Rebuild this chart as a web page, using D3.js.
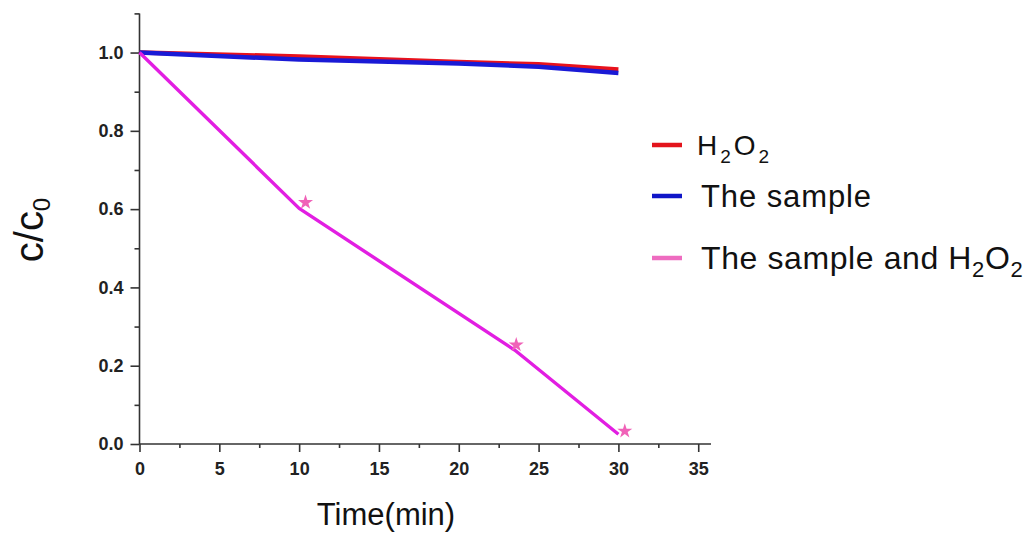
<!DOCTYPE html>
<html>
<head>
<meta charset="utf-8">
<script src="https://cdn.jsdelivr.net/npm/d3@7"></script>
<style>
  html, body { margin: 0; padding: 0; background: #fff; }
  svg { display: block; font-family: "Liberation Sans", Arial, sans-serif; }
</style>
</head>
<body>
<svg id="chart" width="1029" height="536"></svg>
<script>
// Degradation of C/C0 over time for three conditions
const h2o2Time = [0, 10, 20, 25, 30];
const h2o2Vals = [1.0, 0.990, 0.976, 0.970, 0.957];

const sampleTime = [0, 10, 20, 25, 30];
const sampleVals = [1.0, 0.982, 0.972, 0.964, 0.948];

// fitted curve for the sample with H2O2
const mixTime = [0, 10, 23.5, 30];
const mixVals = [1.0, 0.602, 0.240, 0.025];

// measured points for the sample with H2O2
const mixPtTime = [10.4, 23.6, 30.4];
const mixPtVals = [0.617, 0.253, 0.033];

const xMajor = [0, 5, 10, 15, 20, 25, 30, 35];
const xMinor = [2.5, 7.5, 12.5, 17.5, 22.5, 27.5, 32.5];
const yMajor = [0.0, 0.2, 0.4, 0.6, 0.8, 1.0];
const yMinor = [0.1, 0.3, 0.5, 0.7, 0.9, 1.1];

const legendItems = [
  { parts: [["H", false], ["2", true], ["O", false], ["2", true]], color: "#e3141c" },
  { parts: [["The sample", false]], color: "#1016c8" },
  { parts: [["The sample and H", false], ["2", true], ["O", false], ["2", true]], color: "#ee6cc0" }
];

const svg = d3.select("#chart");
svg.append("rect").attr("width", 1029).attr("height", 536).attr("fill", "#fff");

const x = d3.scaleLinear().domain([0, 35.8]).range([139.5, 711]);
const y = d3.scaleLinear().domain([0, 1.1]).range([444, 13.4]);

const axisColor = "#333";
const tickFont = "bold 18px 'Liberation Sans', Arial, sans-serif";

function styleAxis(g) {
  g.select(".domain").attr("stroke", axisColor).attr("stroke-width", 1.6);
  g.selectAll(".tick line").attr("stroke", axisColor).attr("stroke-width", 1.6);
  g.selectAll(".tick text").attr("fill", "#222").style("font", tickFont);
}

// x axis
const gx = svg.append("g").attr("transform", `translate(0,${y(0)})`)
  .call(d3.axisBottom(x).tickValues(xMajor).tickSize(8).tickPadding(10).tickFormat(d3.format("d")));
styleAxis(gx);
gx.select(".domain").attr("d", `M${x(0)},0H${x(35.8)}`);
const gxm = svg.append("g").attr("transform", `translate(0,${y(0)})`)
  .call(d3.axisBottom(x).tickValues(xMinor).tickSize(4).tickFormat(""));
gxm.select(".domain").remove();
styleAxis(gxm);

// y axis
const gy = svg.append("g").attr("transform", `translate(${x(0)},0)`)
  .call(d3.axisLeft(y).tickValues(yMajor).tickSize(9).tickPadding(7).tickFormat(d3.format(".1f")));
styleAxis(gy);
gy.select(".domain").attr("d", `M0,${y(0)}V${y(1.1)}`);
const gym = svg.append("g").attr("transform", `translate(${x(0)},0)`)
  .call(d3.axisLeft(y).tickValues(yMinor).tickSize(5).tickFormat(""));
gym.select(".domain").remove();
styleAxis(gym);

// series lines
const line = d3.line().x(d => x(d[0])).y(d => y(d[1]));
const zip = (a, b) => a.map((v, i) => [v, b[i]]);

svg.append("path").datum(zip(h2o2Time, h2o2Vals))
  .attr("d", line).attr("fill", "none").attr("stroke", "#e8121c").attr("stroke-width", 4.5);
svg.append("path").datum(zip(sampleTime, sampleVals))
  .attr("d", line).attr("fill", "none").attr("stroke", "#1a1ad6").attr("stroke-width", 4.5);
svg.append("path").datum(zip(mixTime, mixVals))
  .attr("d", line).attr("fill", "none").attr("stroke", "#e21ee2").attr("stroke-width", 3.4)
  .attr("stroke-linejoin", "round");

svg.append("g").selectAll("path").data(zip(mixPtTime, mixPtVals)).join("path")
  .attr("transform", d => `translate(${x(d[0])},${y(d[1])})`)
  .attr("d", d3.symbol(d3.symbolStar, 70))
  .attr("fill", "#f062b8");

// axis titles
svg.append("text").attr("x", 386).attr("y", 525).attr("text-anchor", "middle")
  .style("font", "31px 'Liberation Sans', Arial, sans-serif").attr("fill", "#111")
  .text("Time(min)");

const yt = svg.append("text").attr("transform", "translate(43,230) rotate(-90)")
  .attr("text-anchor", "middle").style("font", "40px 'Liberation Sans', Arial, sans-serif")
  .attr("fill", "#111");
yt.append("tspan").text("c/c");
yt.append("tspan").attr("dy", 7).style("font-size", "24px").text("0");

// legend
const legendRows = [
  { y: 145, base: 155, size: 28, spacing: 3 },
  { y: 196, base: 207, size: 31, spacing: 0.9 },
  { y: 258, base: 269, size: 32, spacing: 0.6 }
];
legendItems.forEach((item, i) => {
  const r = legendRows[i];
  svg.append("line").attr("x1", 652).attr("x2", 682).attr("y1", r.y).attr("y2", r.y)
    .attr("stroke", item.color).attr("stroke-width", 4.5);
  const t = svg.append("text").attr("x", i === 0 ? 697 : 701).attr("y", r.base)
    .style("font", `${r.size}px 'Liberation Sans', Arial, sans-serif`)
    .style("letter-spacing", `${r.spacing}px`).attr("fill", "#111");
  let lowered = false;
  item.parts.forEach(([s, sub]) => {
    const ts = t.append("tspan").text(s);
    if (sub) {
      ts.style("font-size", `${Math.round(r.size * 0.68)}px`);
      if (!lowered) { ts.attr("dy", 8); lowered = true; }
    } else if (lowered) {
      ts.attr("dy", -8); lowered = false;
    }
  });
});
</script>
</body>
</html>
